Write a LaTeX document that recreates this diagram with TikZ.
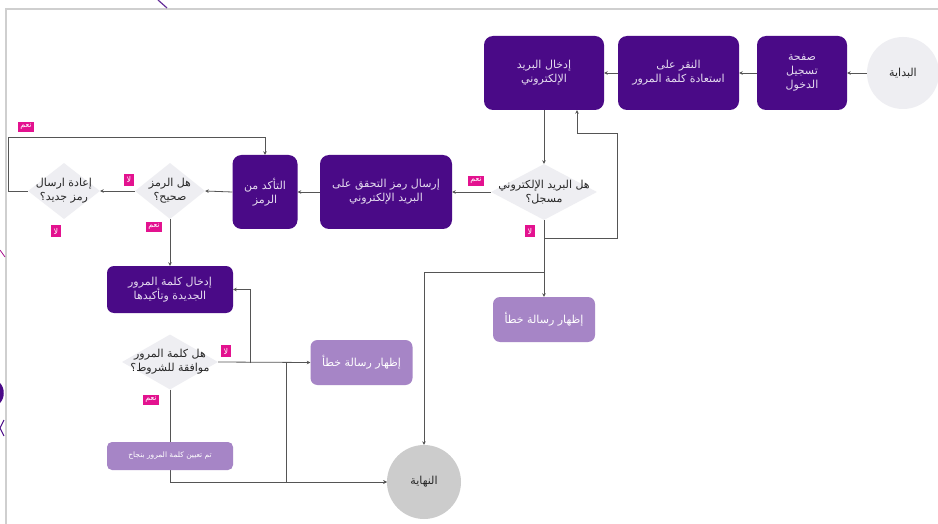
\documentclass[tikz,border=0pt]{standalone}
\usepackage{fontspec}
\setmainfont{DejaVu Sans}
\newfontfamily\arabicfont[Script=Arabic]{DejaVu Sans}
\TeXXeTstate=1
\usetikzlibrary{shapes.geometric,arrows.meta}
\newcommand{\ar}[1]{\beginR #1\endR}
\definecolor{dpurple}{HTML}{4A0A87}
\definecolor{lpurple}{HTML}{A685C6}
\definecolor{dgray}{HTML}{EEEEF2}
\definecolor{endgray}{HTML}{CCCCCC}
\definecolor{mag}{HTML}{E3128F}
\definecolor{conn}{HTML}{555555}
\definecolor{frame}{HTML}{CFCFCF}
\definecolor{softwhite}{HTML}{E6DDF0}
\tikzset{
  txt/.style={align=center, font=\arabicfont\fontsize{11}{14}\selectfont},
  darkbox/.style={txt, rectangle, rounded corners=9pt, fill=dpurple, text=softwhite, inner sep=2pt},
  lightbox/.style={txt, rectangle, rounded corners=7pt, fill=lpurple, text=white, inner sep=2pt},
  dia/.style={diamond, fill=dgray, inner sep=0pt},
  tag/.style={rectangle, fill=mag, text=white, inner xsep=2.5pt, inner ysep=2.5pt, font=\arabicfont\fontsize{8}{9}\selectfont},
  arr/.style={draw=conn, line width=0.8pt, -{Stealth[length=3.5pt,width=3.5pt]}},
  ln/.style={draw=conn, line width=0.8pt}
}
\begin{document}
\begin{tikzpicture}[x=1pt,y=-1pt]
\useasboundingbox (0,0) rectangle (938,524);
\fill[white] (0,0) rectangle (938,524);
% frame and edge fragments
\draw[frame, line width=1.5pt] (6,524) -- (6,9) -- (938,9);
\draw[dpurple!85, line width=1.2pt] (158,0) -- (167,8);
\draw[mag!60!dpurple, line width=0.8pt] (0,250) -- (5,257);
\fill[dpurple] (0,383) .. controls (5,388) and (5,398) .. (0,403) -- cycle;
\draw[dpurple, line width=1pt] (4,420) -- (0,428) -- (4,436);

% top row
\node[circle, fill=dgray, minimum size=72pt, inner sep=0pt, txt, text=black!85] (start) at (903,73) {\ar{البداية}};
\node[darkbox, minimum width=90pt, minimum height=74pt] (login) at (802,73) {\ar{صفحة}\\\ar{تسجيل}\\\ar{الدخول}};
\node[darkbox, minimum width=121pt, minimum height=74pt] (recover) at (678.5,73) {\ar{النقر على}\\\ar{استعادة كلمة المرور}};
\node[darkbox, minimum width=120pt, minimum height=74pt] (email) at (544,73) {\ar{إدخال البريد}\\\ar{الإلكتروني}};

% middle row
\node[dia, minimum width=106pt, minimum height=56pt] (d1) at (544,192) {};
\node[txt, text=black!85] at (d1) {\ar{هل البريد الإلكتروني}\\\ar{مسجل؟}};
\node[darkbox, minimum width=132pt, minimum height=74pt] (send) at (386,192) {\ar{إرسال رمز التحقق على}\\\ar{البريد الإلكتروني}};
\node[darkbox, minimum width=65pt, minimum height=74pt] (verify) at (265,192) {\ar{التأكد من}\\\ar{الرمز}};
\node[dia, minimum width=70pt, minimum height=56pt] (d2) at (170,191) {};
\node[txt, text=black!85] at (d2) {\ar{هل الرمز}\\\ar{صحيح؟}};
\node[dia, minimum width=72pt, minimum height=56pt] (d3) at (64,191) {};
\node[txt, text=black!85] at (d3) {\ar{إعادة ارسال}\\\ar{رمز جديد؟}};

% lower part
\node[lightbox, minimum width=102pt, minimum height=45pt] (err1) at (544,319.5) {\ar{إظهار رسالة خطأ}};
\node[darkbox, rounded corners=7pt, minimum width=126pt, minimum height=47pt] (newpw) at (170,289.5) {\ar{إدخال كلمة المرور}\\\ar{الجديدة وتأكيدها}};
\node[dia, minimum width=96pt, minimum height=55pt] (d4) at (170,362) {};
\node[txt, text=black!85] at (d4) {\ar{هل كلمة المرور}\\\ar{موافقة للشروط؟}};
\node[lightbox, minimum width=102pt, minimum height=45pt] (err2) at (361.5,362.5) {\ar{إظهار رسالة خطأ}};
\node[circle, fill=endgray, minimum size=74pt, inner sep=0pt, txt, text=black!85] (end) at (424,482) {\ar{النهاية}};

% junction coordinates
\coordinate (j1) at (544,238);
\coordinate (lp1) at (617,133);
\coordinate (j2) at (544,272);
\coordinate (lp2) at (8,137);
\coordinate (j3) at (250,363);
\coordinate (j4) at (286,363);

% connectors
\draw[arr] (start.west) -- (login.east);
\draw[arr] (login.west) -- (recover.east);
\draw[arr] (recover.west) -- (email.east);
\draw[arr] (email.south) -- (d1.north);
\draw[arr] (d1.south) -- (err1.north);
\draw[arr] (j1) -| (lp1) -| ([xshift=33pt]email.south);
\draw[arr] (j2) -| (end.north);
\draw[arr] (d1.west) -- (send.east);
\draw[arr] (send.west) -- (verify.east);
\draw[arr] (verify.west) -- (d2.east);
\draw[arr] (d2.west) -- (d3.east);
\draw[arr] (d3.west) -| (lp2) -| (verify.north);
\draw[arr] (d2.south) -- (newpw.north);
\draw[arr] (d4.east) -- (err2.west);
\draw[arr] (j3) |- (newpw.east);
\draw[arr] (j4) |- (end.west);
\draw[arr] (d4.south) |- (end.west);

% success box drawn over its line
\node[lightbox, rounded corners=5pt, minimum width=126pt, minimum height=28pt, font=\arabicfont\fontsize{7.5}{9}\selectfont] (success) at (170,456) {\ar{تم تعيين كلمة المرور بنجاح}};

% labels
\node[tag] (t1) at (476,181) {\ar{نعم}};
\node[tag] (t2) at (530,231) {\ar{لا}};
\node[tag] (t3) at (129,180) {\ar{لا}};
\node[tag] (t4) at (26,127) {\ar{نعم}};
\node[tag] (t5) at (56,231) {\ar{لا}};
\node[tag] (t6) at (154,227) {\ar{نعم}};
\node[tag] (t7) at (226,351) {\ar{لا}};
\node[tag] (t8) at (151,400) {\ar{نعم}};
\end{tikzpicture}
\end{document}
